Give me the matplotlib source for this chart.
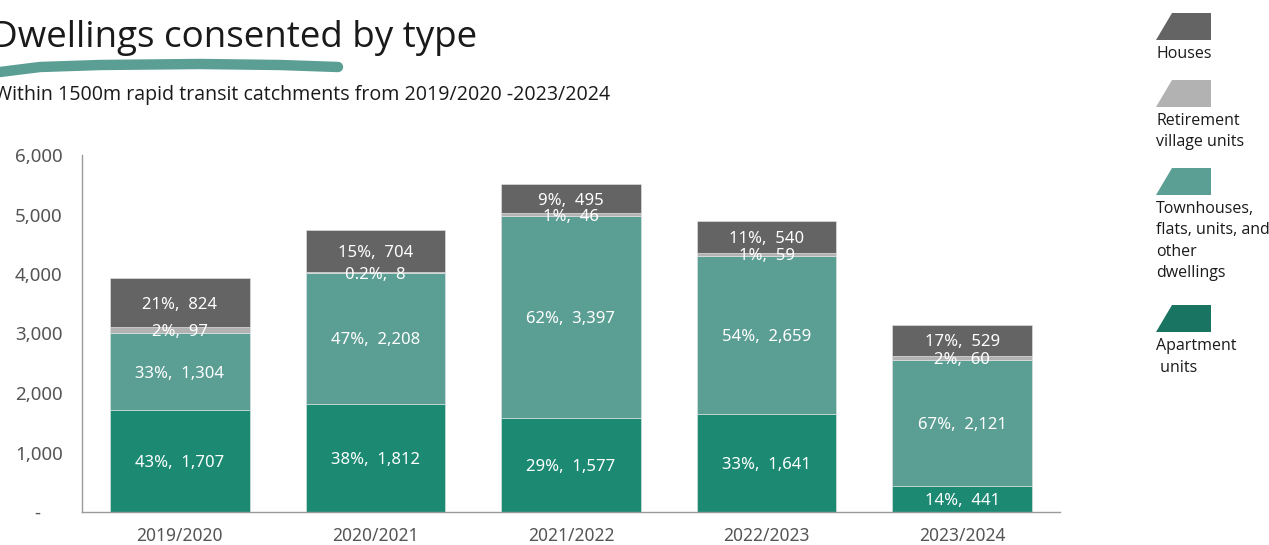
import matplotlib.pyplot as plt
import numpy as np
from matplotlib.patches import Polygon
from matplotlib.lines import Line2D

# dwellings consented, by financial year and dwelling type
years = ['2019/2020', '2020/2021', '2021/2022', '2022/2023', '2023/2024']
apartments = [1707, 1812, 1577, 1641, 441]
townhouses = [1304, 2208, 3397, 2659, 2121]
retirement = [97, 8, 46, 59, 60]
houses = [824, 704, 495, 540, 529]

pct_apartments = ['43%', '38%', '29%', '33%', '14%']
pct_townhouses = ['33%', '47%', '62%', '54%', '67%']
pct_retirement = ['2%', '0.2%', '1%', '1%', '2%']
pct_houses = ['21%', '15%', '9%', '11%', '17%']

series = [
    (apartments, pct_apartments, '#1c8a73', '#1a7462', ['Apartment', ' units']),
    (townhouses, pct_townhouses, '#5b9f94', '#5b9f94', ['Townhouses,', 'flats, units, and', 'other', 'dwellings']),
    (retirement, pct_retirement, '#b2b2b2', '#b2b2b2', ['Retirement', 'village units']),
    (houses, pct_houses, '#646464', '#646464', ['Houses']),
]

TXT = 'Open Sans'
NUM = ['Noto Sans', 'DejaVu Sans']

fig = plt.figure(figsize=(12.69, 5.45), dpi=100)
ax = fig.add_axes([82 / 1269, 33 / 545, 978 / 1269, 357 / 545])

x = np.arange(len(years))
bottom = np.zeros(len(years))
for vals, pcts, col, _, _ in series:
    vals = np.array(vals, dtype=float)
    ax.bar(x, vals, bottom=bottom, width=0.714, color=col,
           edgecolor='#e6e6e6', linewidth=0.4, zorder=2)
    for xi, b, v, p in zip(x, bottom, vals, pcts):
        ax.text(xi, b + v / 2, f'{p},  {int(v):,}', ha='center', va='center_baseline',
                color='white', fontsize=12, family=NUM, zorder=3)
    bottom += vals

ax.set_xlim(-0.5, 4.5)
ax.set_ylim(0, 6000)
ax.set_xticks(x)
ax.set_xticklabels(years)
ax.set_yticks(np.arange(0, 6001, 1000))
# zero shown as a dash, roughly centred under the other labels
ax.set_yticklabels(['-\u2007\u2007'] + [f'{v:,}' for v in range(1000, 6001, 1000)])
ax.tick_params(length=0, labelcolor='#555555')
ax.tick_params(axis='x', labelsize=12.5, pad=11)
ax.tick_params(axis='y', labelsize=13.5, pad=14)
for lab in ax.get_xticklabels() + ax.get_yticklabels():
    lab.set_family(NUM)
for s in ['top', 'right']:
    ax.spines[s].set_visible(False)
for s in ['left', 'bottom']:
    ax.spines[s].set_color('#9a9a9a')
    ax.spines[s].set_linewidth(1)

# title, brush stroke and subtitle
fig.text(-9 / 1269, 1 - 38 / 545, 'Dwellings consented by type', fontsize=26.5,
         family=TXT, color='#1a1a1a', va='center', ha='left')
bx = np.array([0, 40, 100, 200, 280, 338]) / 1269
by = 1 - np.array([72, 67, 65, 64, 65, 67]) / 545
fig.add_artist(Line2D(bx, by, transform=fig.transFigure, color='#5b9f94',
                      linewidth=7.5, solid_capstyle='round'))
fig.text(-6 / 1269, 1 - 95 / 545,
         'Within 1500m rapid transit catchments from 2019/2020 -2023/2024',
         fontsize=14.1, family=TXT, color='#1a1a1a', va='center', ha='left')

# legend with slanted swatches
tops = {'Houses': 13, 'Retirement': 80, 'Townhouses,': 168, 'Apartment': 305}
for _, _, _, lcol, lines in reversed(series):
    t = tops[lines[0]]
    pts = [(1156, t + 27), (1172, t), (1211, t), (1211, t + 27)]
    pts = [(px / 1269, 1 - py / 545) for px, py in pts]
    fig.add_artist(Polygon(pts, closed=True, transform=fig.transFigure,
                           facecolor=lcol, edgecolor='none'))
    for i, line in enumerate(lines):
        fig.text(1156 / 1269, 1 - (t + 41 + 21.5 * i) / 545, line,
                 fontsize=11.5, family=TXT, color='#1a1a1a', va='center', ha='left')

fig.savefig('out.png', dpi=100)
